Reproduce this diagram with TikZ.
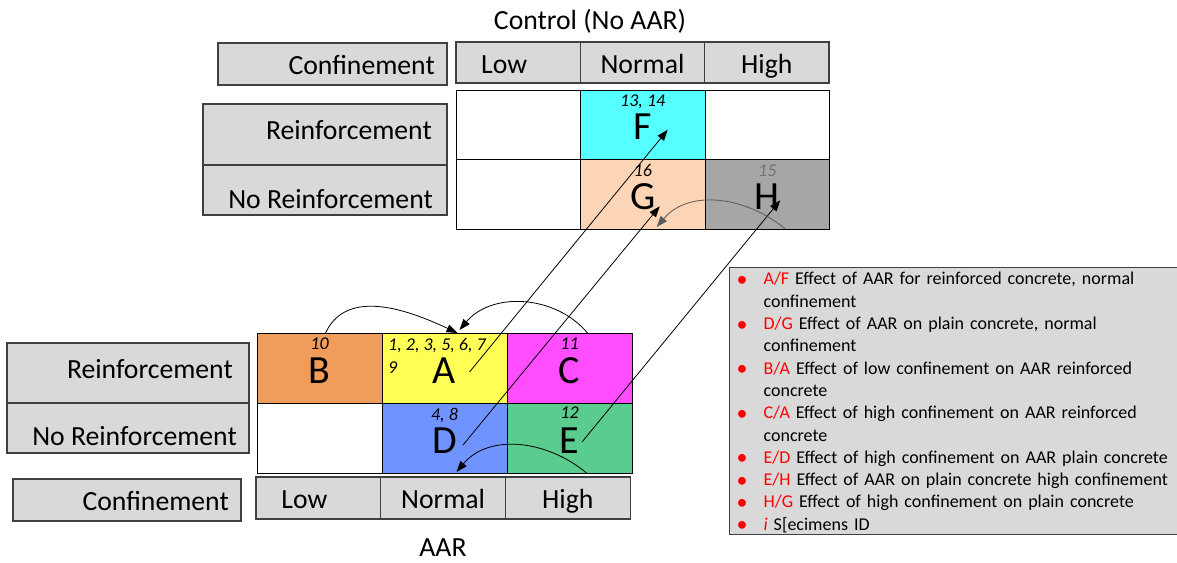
\documentclass[tikz,border=0pt]{standalone}
\usepackage{fontspec}
\setmainfont{Carlito}
\usetikzlibrary{positioning,arrows.meta}

\definecolor{boxgray}{HTML}{D9D9D9}
\definecolor{edgegray}{HTML}{404040}
\definecolor{cyanF}{HTML}{55FFFF}
\definecolor{peachG}{HTML}{FBD5B5}
\definecolor{grayH}{HTML}{A6A6A6}
\definecolor{orangeB}{HTML}{F09D5B}
\definecolor{yellowA}{HTML}{FFFF55}
\definecolor{magentaC}{HTML}{FF4DFF}
\definecolor{blueD}{HTML}{7094FF}
\definecolor{greenE}{HTML}{59CC8E}

\newcommand{\legitem}[2]{\par\noindent\hangindent=29pt\hangafter=1\makebox[29pt][l]{\hspace{2pt}\raisebox{-1.5pt}[0pt][0pt]{\textcolor{red}{\fontsize{22}{22}\selectfont\textbullet}}}\textcolor{red}{#1} #2}

\begin{document}
\begin{tikzpicture}[x=1pt,y=-1pt,
	hdr/.style={draw=edgegray, fill=boxgray, line width=1.2pt, inner sep=0pt, outer sep=0pt, font=\fontsize{27.7}{33}\selectfont},
	hcell/.style={hdr, minimum width=124.3pt, minimum height=41pt, text height=24pt, text depth=3pt},
	cell/.style={draw, line width=1pt, minimum width=124.5pt, minimum height=69.5pt, inner sep=0pt, outer sep=0pt, text height=30pt, text depth=0pt, font=\fontsize{40}{48}\selectfont},
	bcell/.style={cell, minimum width=125pt, minimum height=70pt},
	lbl/.style={inner sep=0pt, anchor=base east, font=\fontsize{27.7}{33}\selectfont},
	num/.style={inner sep=0pt, font=\fontsize{18}{23}\selectfont\itshape},
	link/.style={-{Triangle[length=11pt,width=8pt]}, line width=0.8pt}
	]
	
	\useasboundingbox (0,0) rectangle (1177,562);
	
	% control (no AAR)
	\node[inner sep=0pt, font=\fontsize{27.7}{33}\selectfont] (ttitle) at (590,21) {Control (No AAR)};
	
	\node[hdr, minimum width=229pt, minimum height=42pt, anchor=north west] (tconf) at (218,43) {};
	\node[lbl] (tconft) at (435,74) {Confinement};
	\node[hcell, anchor=north west] (tlow) at (456,42) {Low\kern28pt};
	\node[hcell, right=0pt of tlow] (tnorm) {Normal};
	\node[hcell, right=0pt of tnorm] (thigh) {High};
	
	\node[hdr, minimum width=244pt, minimum height=61pt, anchor=north west] (trein) at (203,104) {};
	\node[hdr, minimum width=244pt, minimum height=50pt, below=0pt of trein] (tnore) {};
	\node[lbl] (treint) at (432,139) {Reinforcement};
	\node[lbl] (tnoret) at (433,208) {No Reinforcement};
	
	\node[cell, fill=white, anchor=north west] (t11) at (456,90) {};
	\node[cell, fill=cyanF, right=0pt of t11] (F) {F};
	\node[cell, fill=white, right=0pt of F] (t13) {};
	\node[cell, fill=white, below=0pt of t11] (t21) {};
	\node[cell, fill=peachG, right=0pt of t21] (G) {G};
	\node[cell, fill=grayH, right=0pt of G] (H) {H};
	
	\node[num, below=5pt of F.north] (nF) {13, 14};
	\node[num, below=5pt of G.north] (nG) {16};
	\node[num, text=black!55, below=5pt of H.north] (nH) {15};
	
	% AAR
	\node[hdr, minimum width=242pt, minimum height=60pt, anchor=north west] (brein) at (7,343) {};
	\node[hdr, minimum width=242pt, minimum height=50pt, below=0pt of brein] (bnore) {};
	\node[lbl] (breint) at (233,378) {Reinforcement};
	\node[lbl] (bnoret) at (237,445) {No Reinforcement};
	
	\node[bcell, fill=orangeB, anchor=north west] (B) at (257,333) {B};
	\node[bcell, fill=yellowA, right=0pt of B] (A) {A};
	\node[bcell, fill=magentaC, right=0pt of A] (C) {C};
	\node[bcell, fill=white, below=0pt of B] (b21) {};
	\node[bcell, fill=blueD, right=0pt of b21] (D) {D};
	\node[bcell, fill=greenE, right=0pt of D] (E) {E};
	
	\node[num, below=5pt of B.north] (nB) {10};
	\node[num, align=left, anchor=north west] (nA) at ([xshift=6pt,yshift=-5pt]A.north west) {1, 2, 3, 5, 6, 7\\9};
	\node[num, below=5pt of C.north] (nC) {11};
	\node[num, below=5pt of D.north] (nD) {4, 8};
	\node[num, below=4pt of E.north] (nE) {12};
	
	\node[hdr, minimum width=228pt, minimum height=42pt, anchor=north west] (bconf) at (13,479) {};
	\node[lbl] (bconft) at (229,510) {Confinement};
	\node[hcell, minimum width=124.7pt, minimum height=42pt, anchor=north west] (blow) at (256,477) {Low\kern28pt};
	\node[hcell, minimum width=124.7pt, minimum height=42pt, right=0pt of blow] (bnorm) {Normal};
	\node[hcell, minimum width=124.7pt, minimum height=42pt, right=0pt of bnorm] (bhigh) {High};
	
	\node[inner sep=0pt, font=\fontsize{27.7}{33}\selectfont] (btitle) at (443,548) {AAR};
	
	% key
	\node[draw=edgegray, fill=boxgray, line width=1.2pt, anchor=north west, text width=460pt, inner xsep=5pt, inner ysep=2pt, align=left, font=\fontsize{18}{22.3}\selectfont] (key) at (729,267) {%
		\vspace*{-7pt}%
		\legitem{A/F}{Effect of AAR for reinforced concrete, normal\newline confinement}
		\legitem{D/G}{Effect of AAR on plain concrete, normal\newline confinement}
		\legitem{B/A}{Effect of low confinement on AAR reinforced\newline concrete}
		\legitem{C/A}{Effect of high confinement on AAR reinforced\newline concrete}
		\legitem{E/D}{Effect of high confinement on AAR plain concrete}
		\legitem{E/H}{Effect of AAR on plain concrete high confinement}
		\legitem{H/G}{Effect of high confinement on plain concrete}
		\legitem{\textit{i}}{S[ecimens ID}};
	
	% effects
	\draw[link] ([xshift=25pt,yshift=-4pt]A.center) -- ([xshift=25pt,yshift=-5pt]F.center);
	\draw[link] ([xshift=18.5pt,yshift=-7pt]D.center) -- ([xshift=17pt,yshift=-12pt]G.center);
	\draw[link] ([xshift=12.5pt,yshift=-4pt]E.center) -- ([xshift=13pt,yshift=-6pt]H.center);
	
	\draw[link] ([xshift=6pt]B.north) to[out=65,in=155] ([xshift=13pt]A.north);
	\draw[link] ([xshift=18pt]C.north) to[out=130,in=50] ([xshift=15pt,yshift=3pt]A.north);
	\draw[link] ([xshift=17pt]E.south) to[out=140,in=50] ([xshift=12pt,yshift=1pt]D.south);
	\draw[link, draw=black!65] ([xshift=18pt]H.south) to[out=140,in=50] ([xshift=14pt,yshift=2pt]G.south);
	
\end{tikzpicture}
\end{document}
